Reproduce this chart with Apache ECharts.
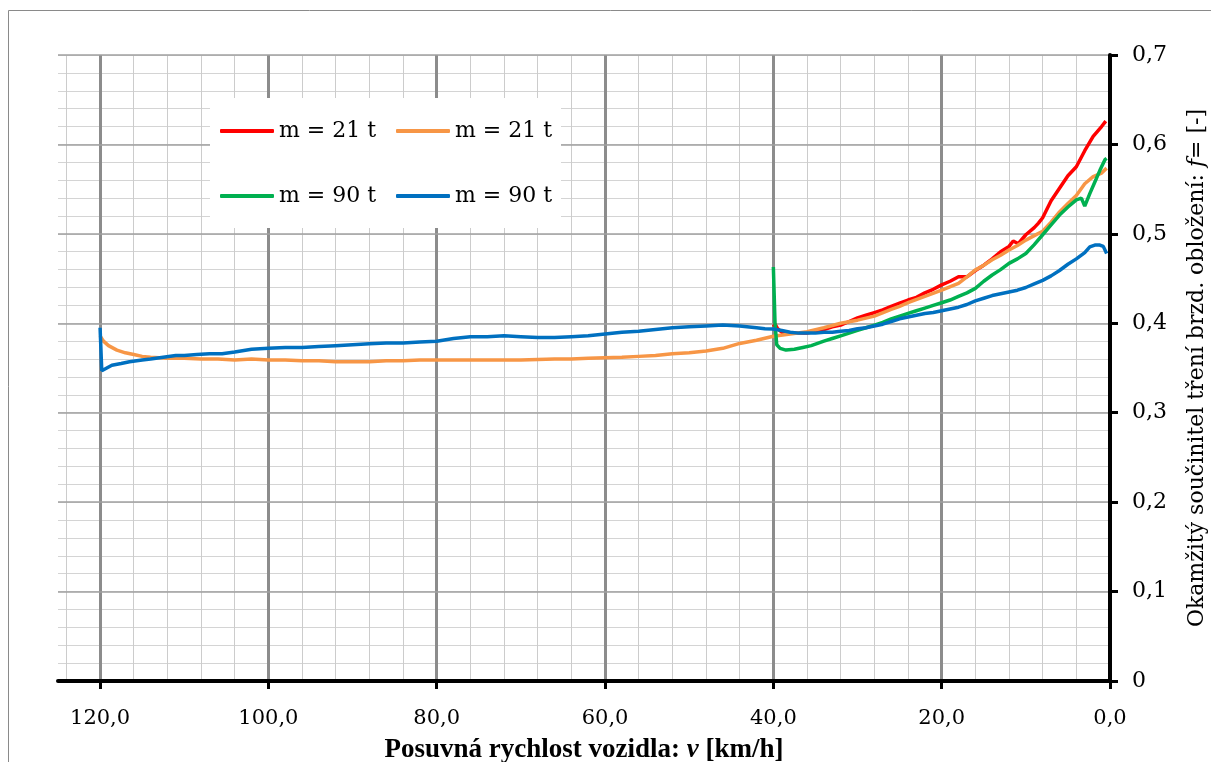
<!DOCTYPE html>
<html>
<head>
<meta charset="utf-8">
<script src="https://cdn.jsdelivr.net/npm/echarts@6/dist/echarts.min.js"></script>
<style>
  html, body { margin: 0; padding: 0; background: #fff; }
  #chart { width: 1211px; height: 762px; }
</style>
</head>
<body>
<div id="chart"></div>
<script>
// Braking test: instantaneous friction coefficient of the brake lining vs. vehicle speed

const xTickValues = [0, 20, 40, 60, 80, 100, 120];
const yTickValues = [0, 0.1, 0.2, 0.3, 0.4, 0.5, 0.6, 0.7];

const seriesNames = ['m = 21 t', 'm = 21 t', 'm = 90 t', 'm = 90 t'];
const seriesColors = ['#FF0000', '#F79646', '#00B050', '#0070C0'];

// m = 21 t (red), from 40 km/h
const speedRed = [40, 39.8, 39.5, 39, 38, 37, 36, 35, 34, 33, 32, 31, 30, 29, 28, 27, 26, 25, 24, 23, 22, 21, 20,
  19, 18, 17, 16, 15, 14, 13, 12, 11.5, 10.9, 10, 9, 8.5, 8, 7, 6, 5, 4, 3, 2, 1, 0.5];
const frictionRed = [0.396, 0.399, 0.394, 0.390, 0.389, 0.389, 0.389, 0.391, 0.393, 0.396, 0.398, 0.402, 0.406,
  0.409, 0.412, 0.415, 0.419, 0.4225, 0.426, 0.429, 0.434, 0.438, 0.443, 0.447, 0.452, 0.452, 0.459, 0.465,
  0.472, 0.480, 0.486, 0.492, 0.489, 0.499, 0.507, 0.512, 0.518, 0.537, 0.551, 0.565, 0.575, 0.593, 0.609,
  0.620, 0.626];

// m = 21 t (orange), from 120 km/h
const speedOrange = [120, 119.6, 119, 118, 117, 116, 115, 114, 112, 110, 108, 106, 104, 102, 100, 98, 96, 94, 92,
  90, 88, 86, 84, 82, 80, 78, 76, 74, 72, 70, 68, 66, 64, 62, 60, 58, 56, 54, 52, 50, 48, 46, 44, 42, 40, 38,
  36, 34, 32, 30, 28, 26, 25, 24, 22, 20, 18, 17, 16, 15, 14, 13, 12, 11, 10, 9, 8, 7, 6, 5, 4, 3, 2, 1, 0.4];
const frictionOrange = [0.386, 0.380, 0.375, 0.370, 0.367, 0.365, 0.363, 0.362, 0.361, 0.361, 0.360, 0.360,
  0.359, 0.360, 0.359, 0.359, 0.358, 0.358, 0.357, 0.357, 0.357, 0.358, 0.358, 0.359, 0.359, 0.359, 0.359,
  0.359, 0.359, 0.359, 0.3595, 0.360, 0.360, 0.361, 0.3615, 0.362, 0.363, 0.364, 0.366, 0.367, 0.369, 0.372,
  0.3775, 0.381, 0.3855, 0.388, 0.3905, 0.395, 0.400, 0.4035, 0.408, 0.4155, 0.419, 0.423, 0.430, 0.437,
  0.4447, 0.452, 0.4596, 0.465, 0.471, 0.476, 0.482, 0.487, 0.493, 0.498, 0.503, 0.513, 0.5245, 0.534, 0.543,
  0.556, 0.564, 0.568, 0.5735];

// m = 90 t (green), from 40 km/h
const speedGreen = [40, 39.8, 39.6, 39.2, 38.5, 37.5, 36.5, 35.5, 34, 33, 32, 31, 30, 29, 28, 27, 26, 25, 24, 23,
  22, 21, 20, 19, 18, 17, 16, 15, 14, 13, 12, 11, 10, 9, 8, 7, 6, 5, 4, 3.4, 3.0, 2.4, 1.8, 1.2, 0.6, 0.4];
const frictionGreen = [0.463, 0.400, 0.376, 0.372, 0.370, 0.371, 0.373, 0.375, 0.380, 0.383, 0.386, 0.389,
  0.392, 0.395, 0.398, 0.401, 0.405, 0.408, 0.411, 0.414, 0.417, 0.420, 0.423, 0.426, 0.430, 0.434, 0.439,
  0.447, 0.454, 0.460, 0.467, 0.472, 0.478, 0.488, 0.499, 0.510, 0.521, 0.530, 0.538, 0.540, 0.531, 0.545,
  0.558, 0.571, 0.583, 0.5845];

// m = 90 t (blue), from 120 km/h
const speedBlue = [120, 119.8, 119.2, 118.6, 117.5, 116.5, 115, 114, 112.5, 111, 110, 108.5, 107, 105.5, 104,
  102, 100, 98, 96, 94, 92, 90, 88, 86, 84, 82, 80, 78, 76, 74, 72, 70, 68, 66, 64, 62, 60, 58, 56, 54, 52, 50,
  48, 46, 44, 42, 41, 40, 39, 38, 37, 36, 35, 34, 33, 32, 31, 30, 29, 28, 27, 26, 25, 24, 23, 22, 21, 20, 19,
  18, 17, 16, 15, 14, 13, 12, 11, 10, 9, 8, 7, 6, 5, 4, 3, 2.4, 1.8, 1.2, 0.8, 0.4];
const frictionBlue = [0.395, 0.347, 0.350, 0.353, 0.355, 0.357, 0.359, 0.360, 0.362, 0.364, 0.364, 0.365,
  0.366, 0.366, 0.368, 0.371, 0.372, 0.373, 0.373, 0.374, 0.375, 0.376, 0.377, 0.378, 0.378, 0.379, 0.380,
  0.383, 0.385, 0.385, 0.386, 0.385, 0.384, 0.384, 0.385, 0.386, 0.388, 0.390, 0.391, 0.393, 0.395, 0.396,
  0.397, 0.398, 0.397, 0.395, 0.394, 0.3935, 0.392, 0.390, 0.389, 0.389, 0.389, 0.390, 0.390, 0.391, 0.392,
  0.394, 0.395, 0.397, 0.399, 0.402, 0.405, 0.407, 0.409, 0.411, 0.412, 0.414, 0.416, 0.418, 0.421, 0.425,
  0.428, 0.431, 0.433, 0.435, 0.437, 0.440, 0.444, 0.448, 0.453, 0.459, 0.466, 0.472, 0.479, 0.4855, 0.4875,
  0.4875, 0.486, 0.478];

const zip = (xs, ys) => xs.map((x, i) => [x, ys[i]]);
const seriesData = [
  zip(speedRed, frictionRed),
  zip(speedOrange, frictionOrange),
  zip(speedGreen, frictionGreen),
  zip(speedBlue, frictionBlue)
];

const commaNum = (v, digits) => v.toFixed(digits).replace('.', ',');

const serif = 'DejaVu Serif';
const chart = echarts.init(document.getElementById('chart'), null, { renderer: 'canvas' });

chart.setOption({
  animation: false,
  backgroundColor: '#ffffff',
  grid: { left: 58, right: 101, top: 55, bottom: 81, containLabel: false, outerBoundsMode: 'none' },
  graphic: [
    {
      type: 'rect', silent: true, z: 0,
      shape: { x: 8.5, y: 10.5, width: 1300, height: 800 },
      style: { fill: null, stroke: '#8a8a8a', lineWidth: 1 }
    },
    {
      type: 'rect', silent: true, z: 3,
      shape: { x: 210, y: 98, width: 351, height: 130 },
      style: { fill: '#ffffff' }
    }
  ],
  legend: {
    z: 4,
    left: 220, top: 108, width: 340,
    padding: 0,
    itemGap: 19,
    itemWidth: 54, itemHeight: 4,
    icon: 'roundRect',
    data: ['a', 'b', 'c', 'd'].map((n) => ({ name: n })),
    formatter: (name) => seriesNames['abcd'.indexOf(name)],
    textStyle: { fontFamily: serif, fontSize: 22, color: '#000', width: 98, lineHeight: 46 }
  },
  xAxis: [
    {
      // minor vertical grid every 4 km/h
      type: 'value', min: 0, max: 125, interval: 4, inverse: true, position: 'bottom', z: 0,
      axisLine: { show: false }, axisTick: { show: false }, axisLabel: { show: false },
      splitLine: { show: true, showMaxLine: false, lineStyle: { color: '#cccccc', width: 1 } }
    },
    {
      type: 'value', min: 0, max: 125, interval: 20, inverse: true, position: 'bottom', z: 2,
      axisLine: { show: true, onZero: false, lineStyle: { color: '#000', width: 4 } },
      axisTick: { show: true, inside: false, length: 8, customValues: xTickValues, lineStyle: { color: '#000', width: 3 } },
      axisLabel: {
        show: true, margin: 27, customValues: xTickValues,
        formatter: (v) => commaNum(v, 1),
        fontFamily: serif, fontSize: 21, color: '#000'
      },
      splitLine: { show: false },
      name: '{b|Posuvná rychlost vozidla: }{bi|v}{b| [km/h]}',
      nameLocation: 'middle', nameGap: 56,
      nameTextStyle: {
        rich: {
          b: { fontFamily: 'Liberation Serif', fontWeight: 'bold', fontSize: 27, color: '#000' },
          bi: { fontFamily: 'Liberation Serif', fontWeight: 'bold', fontStyle: 'italic', fontSize: 27, color: '#000' }
        }
      }
    }
  ],
  yAxis: [
    {
      // minor horizontal grid every 0.02
      type: 'value', min: 0, max: 0.7, interval: 0.02, position: 'right', z: 0,
      axisLine: { show: false }, axisTick: { show: false }, axisLabel: { show: false },
      splitLine: { show: true, lineStyle: { color: '#d4d4d4', width: 1 } }
    },
    {
      type: 'value', min: 0, max: 0.7, interval: 0.1, position: 'right', z: 1,
      axisLine: { show: true, onZero: false, lineStyle: { color: '#000', width: 4 } },
      axisTick: { show: true, inside: false, length: 8, lineStyle: { color: '#000', width: 3 } },
      axisLabel: {
        show: true, margin: 22,
        formatter: (v) => (v === 0 ? '0' : commaNum(v, 1)),
        fontFamily: serif, fontSize: 22, color: '#000'
      },
      splitLine: { show: true, lineStyle: { color: '#a0a0a0', width: 1.5 } },
      name: '{a|Okamžitý součinitel tření brzd. obložení: }{i|f}{a|= [-]}',
      nameLocation: 'middle', nameRotate: 90, nameGap: 76,
      nameTextStyle: {
        rich: {
          a: { fontFamily: serif, fontSize: 22, color: '#000' },
          i: { fontFamily: serif, fontStyle: 'italic', fontSize: 22, color: '#000' }
        }
      }
    }
  ],
  series: [
    // major vertical grid lines every 20 km/h, placed on the speed scale
    {
      name: 'grid',
      type: 'line',
      xAxisIndex: 1, yAxisIndex: 1,
      data: [],
      silent: true,
      z: 0,
      markLine: {
        silent: true, symbol: 'none', label: { show: false }, z: 0,
        lineStyle: { color: '#8c8c8c', width: 3, type: 'solid' },
        data: xTickValues.filter((v) => v > 0).map((v) => ({ xAxis: v }))
      }
    }
  ].concat(seriesData.map((data, i) => ({
    name: 'abcd'[i],
    type: 'line',
    xAxisIndex: 1,
    yAxisIndex: 1,
    data: data,
    showSymbol: false,
    symbol: 'none',
    smooth: false,
    z: 3,
    lineStyle: { color: seriesColors[i], width: 3.5 },
    itemStyle: { color: seriesColors[i] }
  })))
});
</script>
</body>
</html>
